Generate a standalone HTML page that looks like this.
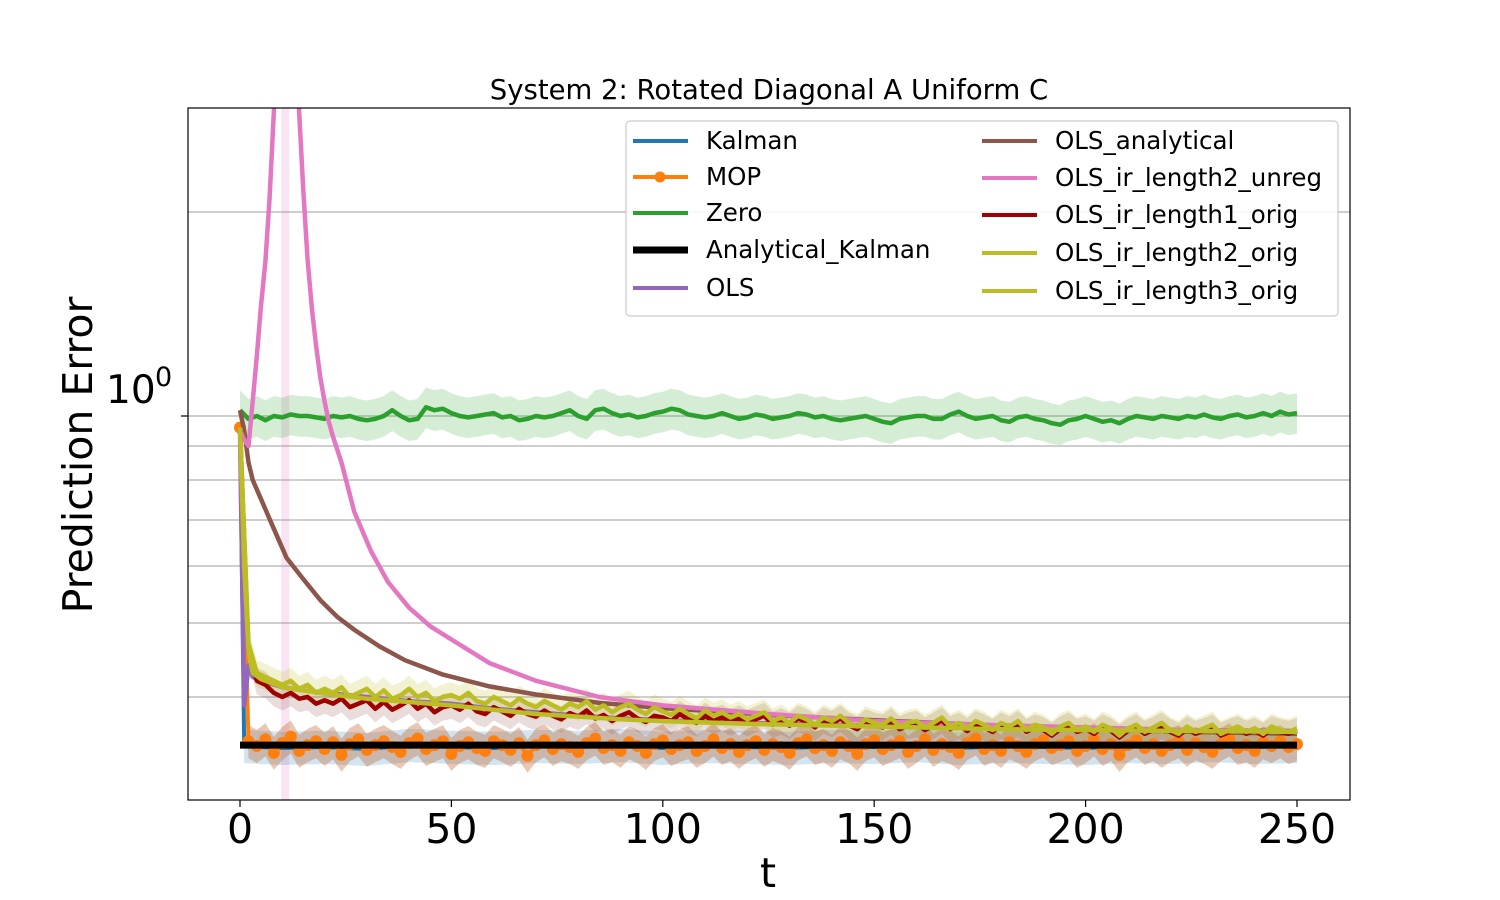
<!DOCTYPE html>
<html><head><meta charset="utf-8"><style>
body{margin:0;background:#fff}
svg{display:block;font-family:"DejaVu Sans","Liberation Sans",sans-serif}
</style></head><body>
<svg id="chart" width="1500" height="900">
<defs><clipPath id="plotclip"><rect x="188" y="108" width="1162" height="692"/></clipPath></defs>
<rect x="0" y="0" width="1500" height="900" fill="#fff"/>
<g id="grid"></g>
<g id="series" clip-path="url(#plotclip)"></g>
<rect x="188" y="108" width="1162" height="692" fill="none" stroke="#000" stroke-width="1.2"/>
<g id="axes"></g>
<text x="769" y="99" font-size="27.5" text-anchor="middle">System 2: Rotated Diagonal A Uniform C</text>
<text x="768" y="887" font-size="41" text-anchor="middle">t</text>
<text transform="translate(92,455) rotate(-90)" font-size="41" text-anchor="middle">Prediction Error</text>
<g id="legend"></g>
</svg>
<script>
// ---- data ----
const gridValues=[0.4,0.5,0.6,0.7,0.8,0.9,1,2];
const xTicks=[0,50,100,150,200,250];
const stepNoisy=2;
const zeroVals=[1.02,0.99,1.0,0.985,1.0,0.995,1.005,1.0,1.0,0.995,
0.99,1.0,0.995,1.0,0.99,0.985,0.99,1.0,1.02,1.0,
0.985,0.99,1.03,1.02,1.025,1.01,1.0,0.995,1.0,1.005,
1.01,0.995,1.0,0.985,0.99,1.0,0.995,1.0,1.01,1.02,
1.0,0.99,1.02,1.025,1.01,1.0,1.005,0.995,1.0,1.01,
1.015,1.025,1.02,1.005,1.0,0.995,1.0,1.01,1.0,0.99,
0.995,1.005,1.0,0.99,0.995,1.0,1.01,1.005,0.995,1.0,
0.99,0.985,0.99,0.995,1.0,0.99,0.98,0.975,0.99,0.995,
1.0,1.0,0.99,0.99,1.005,1.015,1.0,0.99,0.995,1.0,
0.985,0.98,0.995,1.0,0.99,0.985,0.975,0.97,0.985,0.99,
1.0,0.99,0.98,0.985,0.975,0.99,1.0,0.995,0.99,1.0,
0.995,0.99,1.0,0.995,1.005,0.995,0.99,1.0,1.005,0.995,
1.0,1.01,1.0,1.015,1.005,1.01];
const ir3Vals=[0.96,0.47,0.43,0.425,0.42,0.415,0.42,0.41,0.415,0.405,
0.41,0.405,0.412,0.40,0.405,0.41,0.40,0.408,0.398,0.402,
0.41,0.40,0.405,0.395,0.40,0.402,0.398,0.405,0.395,0.392,
0.40,0.395,0.39,0.398,0.392,0.388,0.395,0.39,0.385,0.392,
0.388,0.395,0.385,0.39,0.382,0.388,0.392,0.385,0.38,0.388,
0.383,0.379,0.386,0.38,0.375,0.384,0.378,0.382,0.376,0.38,
0.374,0.378,0.382,0.372,0.376,0.37,0.378,0.374,0.368,0.376,
0.372,0.378,0.37,0.366,0.374,0.37,0.368,0.375,0.366,0.37,
0.372,0.365,0.37,0.376,0.366,0.37,0.364,0.372,0.368,0.362,
0.37,0.366,0.372,0.362,0.368,0.365,0.358,0.366,0.37,0.362,
0.366,0.36,0.368,0.364,0.356,0.364,0.368,0.36,0.365,0.37,
0.362,0.358,0.366,0.36,0.364,0.368,0.358,0.362,0.366,0.36,
0.364,0.358,0.366,0.362,0.36,0.364];
const ir1Vals=[0.96,0.46,0.42,0.415,0.405,0.40,0.405,0.398,0.40,0.392,
0.396,0.392,0.398,0.388,0.392,0.396,0.386,0.394,0.385,0.39,
0.396,0.386,0.392,0.382,0.388,0.39,0.385,0.392,0.383,0.38,
0.388,0.383,0.378,0.386,0.38,0.377,0.384,0.378,0.374,0.381,
0.377,0.384,0.375,0.379,0.372,0.378,0.382,0.375,0.371,0.378,
0.376,0.372,0.38,0.374,0.37,0.378,0.372,0.376,0.371,0.375,
0.37,0.374,0.378,0.368,0.372,0.367,0.375,0.371,0.365,0.373,
0.369,0.375,0.367,0.363,0.371,0.367,0.365,0.372,0.363,0.367,
0.369,0.362,0.367,0.373,0.363,0.367,0.361,0.369,0.365,0.36,
0.367,0.363,0.369,0.36,0.365,0.362,0.356,0.363,0.367,0.36,
0.363,0.358,0.365,0.361,0.354,0.361,0.365,0.358,0.362,0.367,
0.36,0.356,0.363,0.358,0.361,0.365,0.356,0.36,0.363,0.358,
0.361,0.356,0.363,0.36,0.358,0.361];
const mopVals=[0.96,0.35,0.345,0.352,0.338,0.348,0.355,0.34,0.346,0.35,
0.342,0.349,0.336,0.347,0.352,0.341,0.346,0.35,0.344,0.339,
0.348,0.353,0.342,0.346,0.35,0.337,0.345,0.349,0.343,0.34,
0.35,0.346,0.341,0.348,0.335,0.346,0.351,0.342,0.347,0.344,
0.339,0.348,0.353,0.343,0.346,0.34,0.349,0.345,0.338,0.347,
0.351,0.342,0.346,0.349,0.34,0.345,0.352,0.343,0.347,0.339,
0.346,0.35,0.341,0.347,0.344,0.338,0.348,0.352,0.343,0.346,
0.34,0.349,0.345,0.337,0.347,0.351,0.342,0.346,0.35,0.339,
0.345,0.352,0.341,0.347,0.344,0.338,0.348,0.353,0.342,0.346,
0.34,0.349,0.345,0.339,0.347,0.351,0.343,0.346,0.35,0.34,
0.345,0.352,0.342,0.347,0.336,0.346,0.351,0.343,0.347,0.34,
0.346,0.35,0.341,0.348,0.344,0.339,0.347,0.352,0.343,0.346,
0.34,0.349,0.345,0.35,0.344,0.347];
const kalmanT=[0,1,10,20,30,40,50,60,70,80,90,100,110,120,130,140,150,160,170,180,190,200,210,220,230,240,250];
const kalmanVals=[0.96,0.345,0.343,0.344,0.342,0.346,0.344,0.343,0.345,0.344,0.346,0.343,0.345,0.344,0.343,0.345,0.344,0.346,0.343,0.345,0.344,0.343,0.345,0.344,0.346,0.344,0.345];
const olsT=[0,1,2,3,5,10,15,20,30,40,50,60,70,80,90,100,120,140,160,180,200,225,250];
const olsVals=[0.95,0.39,0.44,0.425,0.42,0.412,0.408,0.405,0.4,0.395,0.392,0.386,0.382,0.378,0.375,0.373,0.37,0.368,0.366,0.364,0.362,0.362,0.361];
const ir2T=olsT;
const ir2Vals=[0.96,0.6,0.46,0.43,0.422,0.412,0.408,0.404,0.398,0.394,0.39,0.385,0.38,0.377,0.374,0.372,0.369,0.367,0.365,0.363,0.362,0.361,0.36];
const analyticalT=[0,1,2,3,5,8,11,15,19,23,27,33,39,48,59,70,85,100,125,150,175,200,225,250];
const analyticalVals=[1.02,0.95,0.85,0.8,0.75,0.68,0.617,0.575,0.538,0.51,0.49,0.466,0.447,0.428,0.413,0.403,0.393,0.387,0.379,0.373,0.368,0.363,0.36,0.358];
const unregT=[0,1,2,3,4,5,6,7,8,9,10,11,12,13,14,15,16,17,18,19,20,21,22,24,27,31,35,40,45,51,59,70,85,100,125,150,175,200,225,250];
const unregVals=[0.95,0.92,0.9,1.05,1.23,1.46,1.69,2.1,2.8,4,6,7,6,4,2.8,2.14,1.7,1.44,1.27,1.14,1.05,0.98,0.93,0.85,0.72,0.63,0.57,0.525,0.495,0.472,0.443,0.42,0.4,0.39,0.38,0.372,0.368,0.365,0.362,0.36];
const bandSpread={zero:0.07,ir:0.04,mop:0.05,kalman:0.05,analytical:0.03};
const vBandT=10.7;

// ---- scales ----
const gridPix=[697,623,566,520,480,446,416,212];
function X(t){return 240+t*(1057/250);}
function Y(v){
  const lv=Math.log10(v);
  const L=gridValues.map(Math.log10);
  let i=0;
  if(lv<=L[0])i=0;else if(lv>=L[L.length-1])i=L.length-2;else{while(lv>L[i+1])i++;}
  const f=(lv-L[i])/(L[i+1]-L[i]);
  return gridPix[i]+f*(gridPix[i+1]-gridPix[i]);
}
const NS="http://www.w3.org/2000/svg";
function el(tag,attrs,parent){const e=document.createElementNS(NS,tag);for(const k in attrs)e.setAttribute(k,attrs[k]);parent.appendChild(e);return e;}
const grid=document.getElementById('grid'),series=document.getElementById('series'),axes=document.getElementById('axes'),legend=document.getElementById('legend');

gridValues.forEach(v=>{
  const l=el('line',{x1:188,x2:1350,y1:Y(v),y2:Y(v),stroke:'#b0b0b0','stroke-width':1.2},grid);
  
  
});
xTicks.forEach(t=>{
  const l=el('line',{x1:X(t),x2:X(t),y1:800,y2:807,stroke:'#000','stroke-width':1.2},axes);
  
  
  const tx=el('text',{x:X(t),y:843,'font-size':41,'text-anchor':'middle'},axes);
  tx.textContent=t;
  
  
});
{
  const l=el('line',{x1:181,x2:188,y1:Y(1),y2:Y(1),stroke:'#000','stroke-width':1.2},axes);
  
  
  const tx=el('text',{x:106,y:403,'font-size':39},axes);
  tx.textContent='10';
  
  
  const sup=el('text',{x:155,y:386,'font-size':27},axes);
  sup.textContent='0';
  
  
}

function tsOf(n,step){return Array.from({length:n},(_,i)=>i*step);}
function pathD(ts,vs){return ts.map((t,i)=>(i?'L':'M')+X(t).toFixed(1)+','+Y(vs[i]).toFixed(1)).join('');}
function band(ts,vs,s,color,name){
  const up=ts.map((t,i)=>X(t).toFixed(1)+','+Y(vs[i]*(1+s)).toFixed(1));
  const lo=ts.map((t,i)=>X(t).toFixed(1)+','+Y(vs[i]*(1-s)).toFixed(1)).reverse();
  const p=el('polygon',{points:up.concat(lo).join(' '),fill:color,'fill-opacity':0.2,stroke:'none'},series);
  
  
}
function line(ts,vs,color,w,name){
  const p=el('path',{d:pathD(ts,vs),fill:'none',stroke:color,'stroke-width':w,'stroke-linejoin':'round'},series);
  
  
}
function dots(ts,vs,color,r,name){
  ts.forEach((t,i)=>{
    const c=el('circle',{cx:X(t),cy:Y(vs[i]),r:r,fill:color},series);
    
    
  });
}
{
  const r=el('rect',{x:X(vBandT)-4,y:108,width:8,height:692,fill:'#e377c2','fill-opacity':0.2},series);
  
  
}
const tN=tsOf(zeroVals.length,stepNoisy);
band(kalmanT,kalmanVals,bandSpread.kalman,'#1f77b4','kalman-band');
band(tsOf(mopVals.length,stepNoisy),mopVals,bandSpread.mop,'#ff7f0e','mop-band');
band(tsOf(mopVals.length,stepNoisy),mopVals,bandSpread.mop,'#8c564b','mop-band-brown');
band(tN,zeroVals,bandSpread.zero,'#2ca02c','zero-band');
band(tsOf(ir1Vals.length,stepNoisy),ir1Vals,bandSpread.ir,'#8c564b','ir1-band');
band(tsOf(ir3Vals.length,stepNoisy),ir3Vals,bandSpread.ir,'#bcbd22','ir3-band');
line(kalmanT,kalmanVals,'#1f77b4',4,'kalman-line');
line(tsOf(mopVals.length,stepNoisy),mopVals,'#ff7f0e',4,'mop-line');
dots(tsOf(mopVals.length,stepNoisy),mopVals,'#ff7f0e',6,'mop-point');
line(tN,zeroVals,'#2ca02c',4.5,'zero-line');
line(olsT,olsVals,'#9467bd',4.5,'ols-line');
line(analyticalT,analyticalVals,'#8c564b',4.5,'ols-analytical-line');
line(unregT,unregVals,'#e377c2',4.5,'ols-ir-length2-unreg-line');
line(tsOf(ir1Vals.length,stepNoisy),ir1Vals,'#a00000',4.5,'ols-ir-length1-orig-line');
line(ir2T,ir2Vals,'#bcbd22',4.5,'ols-ir-length2-orig-line');
line(tsOf(ir3Vals.length,stepNoisy),ir3Vals,'#bcbd22',4.5,'ols-ir-length3-orig-line');
{
  const p=el('line',{x1:X(0),x2:X(250),y1:Y(0.346),y2:Y(0.346),stroke:'#000','stroke-width':7},series);
  
  
}
{
  const r=el('rect',{x:626,y:121,width:712,height:195,rx:4,fill:'#fff','fill-opacity':0.85,stroke:'#ccc','stroke-width':1.2},legend);
  
  
}
const legLeft=[['Kalman','#1f77b4',4,141],['MOP','#ff7f0e',4,177],['Zero','#2ca02c',4,213],['Analytical_Kalman','#000',7,250],['OLS','#9467bd',4,288]];
const legRight=[['OLS_analytical','#8c564b',4,141],['OLS_ir_length2_unreg','#e377c2',4,178],['OLS_ir_length1_orig','#a00000',4,215],['OLS_ir_length2_orig','#bcbd22',4,253],['OLS_ir_length3_orig','#bcbd22',4,291]];
function legEntry(e,x0){
  const g=el('g',{},legend);
  
  
  el('line',{x1:x0,x2:x0+55,y1:e[3],y2:e[3],stroke:e[1],'stroke-width':e[2]},g);
  if(e[0]==='MOP')el('circle',{cx:x0+27,cy:e[3],r:5.5,fill:e[1]},g);
  else if(e[0]!=='Analytical_Kalman')el('circle',{cx:x0+27,cy:e[3],r:2,fill:e[1]},g);
  const t=el('text',{x:x0+73,y:e[3]+8,'font-size':24.5},g);
  t.textContent=e[0];
}
legLeft.forEach(e=>legEntry(e,633));
legRight.forEach(e=>legEntry(e,982));
</script>
</body></html>
